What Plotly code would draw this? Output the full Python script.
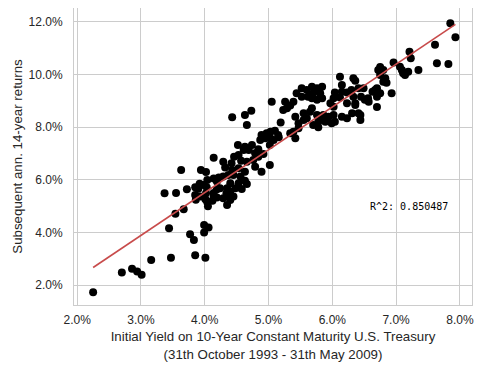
import numpy as np
import plotly.graph_objects as go

# Initial 10-year Treasury yield (%)
yield_x = [
    2.25, 2.70, 2.86, 2.94, 3.01, 3.16, 3.47, 3.44, 3.37, 3.55, 3.54, 3.67, 3.63, 3.72,
    3.77, 3.83, 3.85, 4.01, 3.99, 4.06, 3.99, 3.94, 4.02, 4.14, 4.22, 3.85, 3.92, 3.98,
    4.03, 3.90, 3.85, 3.93, 3.86, 4.01, 4.04, 4.05, 4.12, 4.14, 4.19, 4.19, 4.02, 4.14,
    4.04, 4.14, 4.19, 4.29, 4.32, 4.42, 4.46, 4.53, 4.57, 4.66, 4.76, 4.84, 4.92, 4.79,
    4.79, 4.89, 5.02, 4.63, 4.53, 4.43, 4.37, 4.29, 4.45, 4.56, 4.63, 4.66, 4.53, 4.40,
    4.58, 4.48, 4.40, 4.35, 4.24, 4.37, 4.40, 4.29, 4.35, 4.45, 4.34, 4.52, 4.61, 4.63,
    4.69, 4.74, 4.84, 4.43, 4.63, 4.73, 4.66, 4.89, 4.97, 5.03, 5.10, 5.15, 4.87, 4.95,
    5.03, 5.08, 5.02, 5.16, 5.05, 5.26, 5.29, 5.34, 5.39, 5.23, 5.42, 5.19, 5.44, 5.52,
    5.60, 5.68, 5.76, 5.84, 5.70, 5.81, 5.68, 5.76, 5.84, 5.52, 5.62, 5.55, 5.60, 5.65,
    5.68, 5.76, 5.78, 5.84, 5.89, 5.99, 6.04, 5.94, 6.02, 6.15, 6.23, 6.31, 6.41, 6.44,
    6.36, 6.51, 6.70, 5.47, 5.55, 5.39, 5.47, 5.34, 5.42, 5.70, 5.78, 5.86, 6.12, 6.36,
    6.33, 6.15, 6.04, 6.15, 6.23, 6.30, 6.41, 6.49, 6.02, 6.12, 6.23, 6.36, 6.45, 6.56,
    6.63, 6.33, 5.97, 6.02, 6.57, 6.44, 6.70, 6.70, 6.75, 6.67, 6.75, 6.80, 6.80, 6.72,
    6.75, 6.83, 6.85, 6.93, 6.96, 7.06, 7.09, 7.14, 7.19, 7.11, 7.21, 7.23, 7.35, 7.61,
    7.64, 7.82, 7.85, 7.93,
]

# Subsequent annualised 14-year returns (%)
returns_y = [
    1.72, 2.48, 2.62, 2.51, 2.39, 2.95, 3.04, 4.16, 5.49, 5.50, 4.71, 4.88, 6.37, 5.64,
    3.93, 3.71, 3.13, 3.04, 4.28, 4.19, 4.00, 6.37, 6.30, 6.84, 6.09, 5.72, 5.85, 5.80,
    5.72, 5.66, 5.42, 5.36, 5.24, 5.26, 5.15, 4.99, 5.20, 5.50, 5.64, 5.33, 5.49, 5.36,
    5.99, 6.05, 5.93, 6.69, 6.47, 6.63, 6.88, 6.94, 6.72, 6.69, 6.75, 6.88, 6.98, 7.01,
    6.50, 6.31, 6.56, 6.31, 6.44, 6.37, 6.18, 6.12, 6.18, 6.12, 5.96, 5.84, 5.87, 5.87,
    5.65, 5.68, 5.55, 5.68, 5.68, 5.42, 5.23, 5.30, 5.04, 5.36, 5.49, 7.32, 7.13, 7.26,
    7.13, 7.32, 7.16, 8.38, 8.46, 8.62, 8.08, 7.70, 7.77, 7.83, 7.86, 7.70, 7.51, 7.58,
    7.58, 7.51, 7.32, 7.62, 8.97, 8.97, 8.72, 8.82, 8.97, 8.65, 8.40, 8.18, 9.29, 9.48,
    9.41, 9.54, 9.48, 9.54, 9.29, 9.29, 9.10, 9.04, 9.10, 9.16, 9.16, 8.53, 8.34, 8.59,
    8.72, 8.46, 8.21, 8.34, 8.21, 8.15, 8.21, 8.40, 8.46, 8.40, 8.34, 8.53, 8.53, 8.27,
    8.84, 9.04, 8.77, 8.15, 8.27, 7.83, 7.96, 7.77, 7.58, 8.08, 8.00, 8.46, 9.92, 9.76,
    9.86, 9.60, 9.32, 9.35, 9.32, 9.41, 9.48, 9.48, 9.10, 9.13, 8.91, 8.91, 9.16, 9.10,
    9.35, 9.16, 8.91, 8.78, 8.97, 8.46, 9.48, 9.16, 9.29, 9.41, 10.29, 10.17, 9.73, 10.17,
    9.98, 9.86, 9.69, 9.29, 10.46, 10.30, 10.17, 9.98, 10.11, 10.05, 10.87, 10.62, 10.17, 11.13,
    10.43, 10.40, 11.95, 11.42,
]

r2_text = "R^2: 0.850487"
x_title = "Initial Yield on 10-Year Constant Maturity U.S. Treasury<br>(31th October 1993 - 31th May 2009)"
y_title = "Subsequent ann. 14-year returns"

xa = np.array(yield_x)
ya = np.array(returns_y)
slope, intercept = np.polyfit(xa, ya, 1)
fit_x = [xa.min(), xa.max()]
fit_y = [slope * v + intercept for v in fit_x]

text_color = "#262626"
grid_color = "#cccccc"

fig = go.Figure()
fig.add_trace(go.Scatter(
    x=yield_x, y=returns_y, mode="markers",
    marker=dict(color="black", size=8, line=dict(width=0)),
    showlegend=False, hoverinfo="skip",
))
fig.add_trace(go.Scatter(
    x=fit_x, y=fit_y, mode="lines",
    line=dict(color="#c84b4b", width=1.6),
    showlegend=False, hoverinfo="skip",
))

fig.add_annotation(
    x=6.56, y=4.98, xref="x", yref="y", text=r2_text, showarrow=False,
    xanchor="left", yanchor="middle",
    font=dict(family="DejaVu Sans Mono", size=10, color="black"),
)

axis_common = dict(
    showgrid=True, gridcolor=grid_color, gridwidth=1,
    showline=True, linecolor=grid_color, linewidth=1, mirror=True,
    zeroline=False, ticks="", tickfont=dict(size=12, color=text_color),
    tickformat=".1f", ticksuffix="%", automargin=False,
)

fig.update_xaxes(
    range=[1.95, 8.19], dtick=1, tick0=0, ticklabelstandoff=4,
    title=dict(text=x_title, font=dict(size=13.3, color=text_color), standoff=5),
    **axis_common,
)
fig.update_yaxes(
    range=[1.24, 12.53], dtick=2, tick0=0, ticklabelstandoff=8,
    title=dict(text=y_title, font=dict(size=13.3, color=text_color), standoff=2),
    **axis_common,
)

# the page body adds an 8px offset, so the figure is 8px smaller than the window
fig.update_layout(
    width=480, height=360,
    margin=dict(l=66, r=16, t=0, b=63),
    paper_bgcolor="white", plot_bgcolor="white",
    font=dict(family="Liberation Sans, Arial, sans-serif", size=12, color=text_color),
)

fig.write_html("out.html")
